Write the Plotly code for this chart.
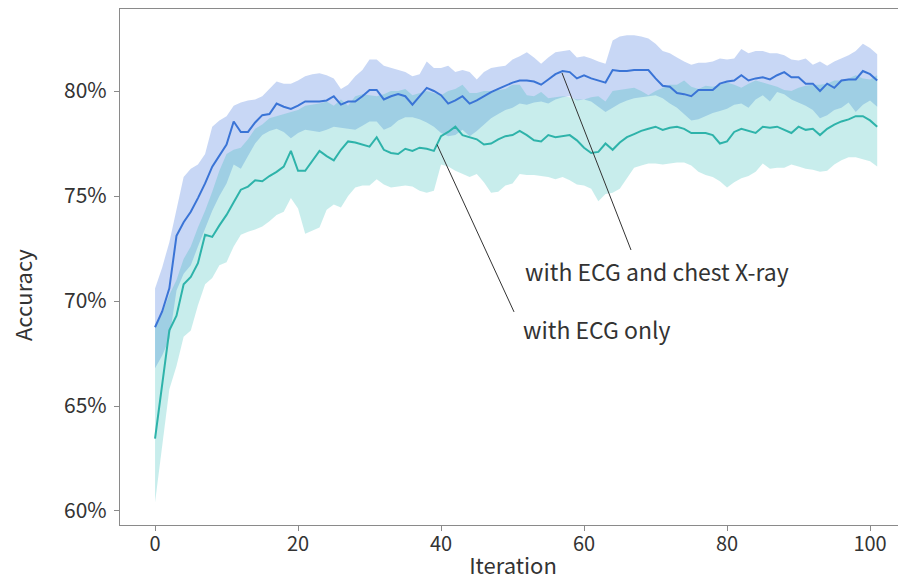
import plotly.graph_objects as go

iterations = list(range(102))

# with ECG and chest X-ray (blue)
blue_mean = [68.75, 69.5, 70.6, 73.1, 73.75, 74.25, 74.9, 75.6, 76.4, 76.95,
             77.45, 78.55, 78.05, 78.05, 78.5, 78.85, 78.9, 79.4, 79.25, 79.15,
             79.3, 79.5, 79.5,
             79.5, 79.55, 79.75, 79.35, 79.5, 79.5, 79.75, 80.05, 80.05, 79.6,
             79.75, 79.85, 79.75, 79.35, 79.75, 80.15, 80.0, 79.8, 79.4, 79.55,
             79.75, 79.4, 79.55, 79.75, 79.95, 80.1, 80.25, 80.4, 80.5, 80.5,
             80.45, 80.3, 80.55, 80.8, 80.95, 80.9, 80.6, 80.75, 80.6, 80.5,
             80.4, 81.0, 80.95, 80.95, 81.0,
             81.0,
             81.0, 80.6, 80.25, 80.2, 79.9, 79.85, 79.75, 80.05, 80.05, 80.05,
             80.35, 80.45, 80.5, 80.75, 80.5, 80.6, 80.65, 80.55, 80.75, 80.9,
             80.65, 80.65, 80.35, 80.35, 80.0, 80.35, 80.15, 80.5, 80.55, 80.55,
             80.95, 80.8, 80.5]
blue_upper = [70.6, 71.6, 72.8, 74.3, 75.9, 76.3, 76.5, 77.0, 78.3, 78.6,
              78.8, 79.3, 79.45, 79.55, 79.6, 79.75, 80.1, 80.45, 80.35, 80.35,
              80.5, 80.7, 80.8,
              80.85, 80.75, 80.6, 80.1, 80.3, 80.7, 81.0, 81.5, 81.5, 81.2,
              81.1, 81.0, 80.9, 80.7, 80.8, 81.4, 81.1, 81.1, 81.2, 80.9,
              81.0, 80.9, 80.55, 80.9, 81.1, 81.15, 81.2, 81.5, 81.65, 81.85,
              81.6, 81.3, 81.6, 81.85, 81.9, 81.95, 81.6, 81.65, 81.55, 81.4,
              81.3, 82.4, 82.6, 82.65, 82.65,
              82.6,
              82.5, 82.25, 81.9, 81.8, 81.6, 81.4, 81.25, 81.35, 81.35, 81.4,
              81.55, 81.5, 81.55, 82.0, 81.8, 81.9, 81.9, 81.8, 81.8, 81.7,
              81.5, 81.45, 81.55, 81.25, 81.4, 81.2, 81.4, 81.55, 81.7, 81.9,
              82.25, 82.05, 81.75]
blue_lower = [66.8, 67.4, 68.2, 70.5, 71.3, 71.7, 72.6, 73.5, 74.3, 75.0,
              75.6, 76.5, 76.3, 76.9, 77.5, 77.9, 78.1, 78.2, 78.05, 77.75,
              78.0, 78.15, 78.1,
              78.05, 78.15, 78.3, 78.25, 78.2, 78.15, 78.35, 78.55, 78.55, 78.15,
              78.3, 78.6, 78.75, 78.75, 78.65, 78.5, 78.3, 78.0, 77.85, 77.9,
              78.15, 77.85, 78.1, 78.4, 78.7, 78.9, 79.1, 79.2, 79.4, 79.35,
              79.45, 79.5, 79.4, 79.6, 79.7, 79.75, 79.55, 79.6, 79.5, 79.25,
              79.0, 79.2, 79.4, 79.55, 79.65,
              79.7,
              79.75, 79.8, 79.65, 79.4, 79.2, 78.9, 78.6, 78.65, 78.8, 78.95,
              79.05, 79.15, 79.35, 79.4, 79.2, 79.6, 79.8, 79.5, 79.95, 79.85,
              79.6, 79.45, 79.3, 79.1, 78.7, 78.85, 79.1, 79.2, 79.45, 79.0,
              79.35, 79.55, 79.25]

# with ECG only (teal)
teal_mean = [63.45, 66.0, 68.6, 69.3, 70.8, 71.15, 71.8, 73.15, 73.05, 73.6,
             74.1, 74.7, 75.3, 75.45, 75.75, 75.7, 75.95, 76.15, 76.4, 77.15,
             76.2, 76.2, 76.7,
             77.15, 76.9, 76.7, 77.2, 77.6, 77.55, 77.45, 77.35, 77.8, 77.2,
             77.05, 77.0, 77.25, 77.15, 77.3, 77.25, 77.15, 77.85, 78.05, 78.3,
             77.9, 77.8, 77.7, 77.45, 77.5, 77.7, 77.85, 77.9, 78.1, 77.9,
             77.65, 77.6, 77.9, 77.8, 77.85, 77.9, 77.65, 77.3, 77.05, 77.1,
             77.5, 77.2, 77.55, 77.8, 77.95,
             78.1,
             78.2, 78.3, 78.15, 78.25, 78.3, 78.2, 78.0, 78.0, 78.0, 77.9,
             77.5, 77.6, 78.05, 78.2, 78.1, 78.0, 78.3, 78.25, 78.3, 78.15,
             78.0, 78.3, 78.15, 78.2, 77.9, 78.2, 78.4, 78.55, 78.65, 78.8,
             78.8, 78.6, 78.3]
teal_upper = [68.7, 69.4, 70.3, 71.0, 72.0, 72.6, 73.5, 74.3, 75.2, 76.2,
              77.0, 77.2, 77.3, 77.7, 78.2, 78.4, 78.7, 78.8, 78.9, 79.0,
              79.1, 79.3, 79.35,
              79.4, 79.5, 79.3, 79.6, 79.3, 79.75, 79.85, 79.8, 79.75, 79.85,
              80.0, 80.0, 80.1, 79.8, 79.9, 80.0, 79.9, 79.8, 80.0, 80.1,
              80.3, 79.9, 79.9, 80.0, 80.0, 80.05, 80.1, 80.3, 80.3, 79.8,
              79.75, 79.95, 79.65, 79.7, 79.75, 79.7, 79.6, 79.6, 79.7, 79.75,
              79.5, 80.0, 80.05, 80.1, 80.15,
              80.0,
              79.8, 80.0, 80.15, 80.3, 80.3, 80.5, 80.2, 80.1, 80.25, 80.2,
              80.3, 80.4, 80.3, 80.15, 80.35, 80.5, 80.4, 80.3, 80.2, 80.05,
              80.0, 80.15, 80.25, 80.3, 80.3, 80.35, 80.5, 80.5, 80.6, 80.75,
              80.6, 80.55, 80.75]
teal_lower = [60.4, 63.2, 65.8, 66.9, 68.3, 68.6, 69.8, 70.8, 71.1, 71.7,
              71.85, 72.6, 73.15, 73.3, 73.4, 73.55, 73.8, 74.1, 74.25, 74.9,
              74.4, 73.2, 73.35,
              73.5, 74.35, 74.6, 74.45, 75.0, 75.4, 75.5, 75.5, 75.8, 75.55,
              75.4, 75.45, 75.5, 75.45, 75.25, 75.15, 75.25, 76.5, 76.4, 76.2,
              76.05, 75.9, 76.05, 75.65, 75.15, 75.2, 75.5, 75.6, 76.05, 76.0,
              76.0, 75.95, 75.9, 75.8, 75.9, 75.75, 75.55, 75.5, 75.35, 74.75,
              75.1, 75.15, 75.35, 75.85, 76.35,
              76.45,
              76.55, 76.55, 76.5, 76.55, 76.6, 76.6, 76.45, 76.15, 76.0, 75.9,
              75.7, 75.4, 75.65, 75.85, 75.95, 76.15, 76.55, 76.3, 76.35, 76.35,
              76.5, 76.4, 76.3, 76.25, 76.15, 76.2, 76.5, 76.7, 76.85, 76.85,
              76.75, 76.65, 76.4]

y_ticks = [60, 65, 70, 75, 80]
y_tick_labels = ["60%", "65%", "70%", "75%", "80%"]
x_ticks = [0, 20, 40, 60, 80, 100]

BLUE_LINE = "#3a74d6"
BLUE_FILL = "rgba(35,95,215,0.25)"
TEAL_LINE = "#2eb3aa"
TEAL_FILL = "rgba(35,185,180,0.25)"
FONT = "Noto Sans CJK JP, Noto Sans, sans-serif"
TXT = "#333333"
AX = "#8a8a8a"

fig = go.Figure()
fig.add_trace(go.Scatter(x=iterations, y=blue_upper, mode="lines", line=dict(width=0),
                         hoverinfo="skip", showlegend=False))
fig.add_trace(go.Scatter(x=iterations, y=blue_lower, mode="lines", line=dict(width=0),
                         fill="tonexty", fillcolor=BLUE_FILL, hoverinfo="skip", showlegend=False))
fig.add_trace(go.Scatter(x=iterations, y=teal_upper, mode="lines", line=dict(width=0),
                         hoverinfo="skip", showlegend=False))
fig.add_trace(go.Scatter(x=iterations, y=teal_lower, mode="lines", line=dict(width=0),
                         fill="tonexty", fillcolor=TEAL_FILL, hoverinfo="skip", showlegend=False))
fig.add_trace(go.Scatter(x=iterations, y=teal_mean, mode="lines", line=dict(color=TEAL_LINE, width=2),
                         name="with ECG only", showlegend=False))
fig.add_trace(go.Scatter(x=iterations, y=blue_mean, mode="lines", line=dict(color=BLUE_LINE, width=2),
                         name="with ECG and chest X-ray", showlegend=False))

# pointer lines
fig.add_shape(type="line", x0=66.57, y0=72.43, x1=56.92, y1=80.86, xref="x", yref="y",
              line=dict(color="#333333", width=1))
fig.add_shape(type="line", x0=50.21, y0=69.48, x1=39.44, y1=77.45, xref="x", yref="y",
              line=dict(color="#333333", width=1))

fig.add_annotation(x=51.47, y=71.43, xref="x", yref="y", text="with ECG and chest X-ray",
                   showarrow=False, xanchor="left", yanchor="middle",
                   font=dict(family=FONT, size=23, color=TXT))
fig.add_annotation(x=51.19, y=68.67, xref="x", yref="y", text="with ECG only",
                   showarrow=False, xanchor="left", yanchor="middle",
                   font=dict(family=FONT, size=23, color=TXT))
# y-axis title
fig.add_annotation(x=-0.1247, y=0.4457, xref="paper", yref="paper", text="Accuracy",
                   showarrow=False, textangle=-90, xanchor="center", yanchor="middle",
                   font=dict(family=FONT, size=22, color=TXT))

# the page body adds an 8px offset, so the figure is sized and margined to compensate
fig.update_layout(
    width=898, height=572,
    margin=dict(l=112, r=0, t=1, b=55),
    paper_bgcolor="white", plot_bgcolor="white",
    font=dict(family=FONT, color=TXT),
    xaxis=dict(range=[-4.9, 105.03], tickvals=x_ticks, showgrid=False, zeroline=False,
               showline=True, linecolor=AX, linewidth=1.2, mirror=True,
               ticks="outside", ticklen=5, tickcolor=AX, ticklabelstandoff=-4,
               tickfont=dict(family=FONT, size=20, color=TXT),
               title=dict(text="Iteration", font=dict(family=FONT, size=22, color=TXT), standoff=6)),
    yaxis=dict(range=[59.333, 83.905], tickvals=y_ticks, ticktext=y_tick_labels, showgrid=False,
               zeroline=False, showline=True, linecolor=AX, linewidth=1.2,
               ticks="outside", ticklen=5, tickcolor=AX, ticklabelstandoff=3,
               tickfont=dict(family=FONT, size=21, color=TXT)),
)

fig.write_html("out.html")
